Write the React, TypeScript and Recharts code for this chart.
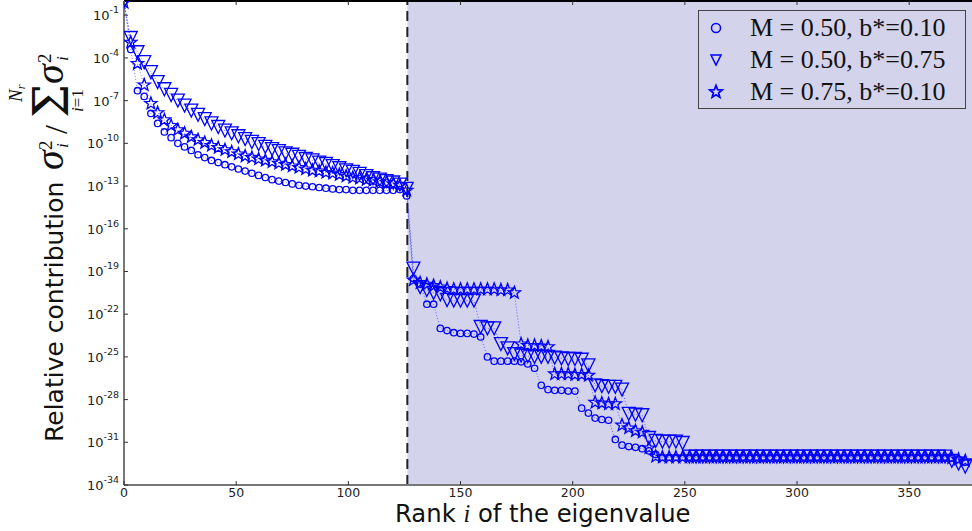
import React from "react";
import { LineChart, Line, XAxis, YAxis, ReferenceArea, ReferenceLine } from "recharts";

// rank of the eigenvalue (every 3rd one carries a marker)
const rank = [
  0, 3, 6, 9, 12, 15, 18, 21, 24, 27, 30, 33, 36, 39, 42, 45, 48, 51, 54, 57,
  60, 63, 66, 69, 72, 75, 78, 81, 84, 87, 90, 93, 96, 99, 102, 105, 108, 111, 114, 117,
  120, 123, 126, 129, 132, 135, 138, 141, 144, 147, 150, 153, 156, 159, 162, 165, 168, 171, 174, 177,
  180, 183, 186, 189, 192, 195, 198, 201, 204, 207, 210, 213, 216, 219, 222, 225, 228, 231, 234, 237,
  240, 243, 246, 249, 252, 255, 258, 261, 264, 267, 270, 273, 276, 279, 282, 285, 288, 291, 294, 297,
  300, 303, 306, 309, 312, 315, 318, 321, 324, 327, 330, 333, 336, 339, 342, 345, 348, 351, 354, 357,
  360, 363, 366, 369, 372, 375,
];

// log10 of sigma_i^2 / sum sigma_i^2
// M = 0.50, b* = 0.10 (circles)
const expM050b010 = [
  -0.05, -3.4, -6.3, -6.7, -7.9, -8.6, -9.2, -9.6, -10.0, -10.25, -10.5, -10.8, -11.0, -11.2, -11.35, -11.5, -11.65, -11.8, -11.95, -12.1,
  -12.25, -12.4, -12.55, -12.65, -12.75, -12.85, -12.95, -13.0, -13.05, -13.1, -13.15, -13.2, -13.25, -13.25, -13.3, -13.3, -13.3, -13.3, -13.3, -13.3,
  -13.3, -13.25, -13.7, -19.5, -19.9, -21.3, -21.3, -23.0, -23.15, -23.3, -23.35, -23.35, -23.4, -23.6, -25.0, -25.3, -25.3, -25.3, -25.3, -25.35,
  -25.5, -25.8, -27.0, -27.3, -27.35, -27.35, -27.4, -27.4, -28.6, -28.95, -29.3, -29.4, -29.45, -30.8, -31.2, -31.3, -31.35, -31.45, -31.6, -31.85,
  -32.05, -32.05, -32.05, -32.05, -32.05, -32.05, -32.05, -32.05, -32.05, -32.05, -32.05, -32.05, -32.05, -32.05, -32.05, -32.05, -32.05, -32.05, -32.05, -32.05,
  -32.05, -32.05, -32.05, -32.05, -32.05, -32.05, -32.05, -32.05, -32.05, -32.05, -32.05, -32.05, -32.05, -32.05, -32.05, -32.05, -32.05, -32.05, -32.05, -32.05,
  -32.05, -32.05, -32.05, -32.1, -32.2, -32.4,
];

// M = 0.50, b* = 0.75 (triangles)
const expM050b075 = [
  -0.05, -2.6, -3.6, -4.3, -5.0, -5.7, -6.2, -6.6, -7.0, -7.35, -7.7, -8.0, -8.3, -8.6, -8.85, -9.1, -9.3, -9.5, -9.7, -9.9,
  -10.05, -10.25, -10.4, -10.55, -10.7, -10.8, -10.95, -11.1, -11.2, -11.35, -11.45, -11.6, -11.75, -11.9, -12.0, -12.15, -12.3, -12.45, -12.55, -12.65,
  -12.75, -12.9, -13.2, -18.8, -20.1, -20.3, -20.5, -20.6, -21.0, -21.05, -21.05, -21.05, -21.05, -22.9, -23.0, -23.0, -24.1, -24.4, -24.8, -24.9,
  -24.95, -25.0, -25.0, -25.0, -25.05, -25.1, -25.15, -25.15, -25.2, -25.6, -27.0, -27.05, -27.1, -27.1, -27.3, -29.0, -29.05, -29.1, -30.7, -30.9,
  -30.95, -30.95, -30.95, -31.05, -32.0, -32.0, -32.0, -32.0, -32.0, -32.0, -32.0, -32.0, -32.0, -32.0, -32.0, -32.0, -32.0, -32.0, -32.0, -32.0,
  -32.0, -32.0, -32.0, -32.0, -32.0, -32.0, -32.0, -32.0, -32.0, -32.0, -32.0, -32.0, -32.0, -32.0, -32.0, -32.0, -32.0, -32.0, -32.0, -32.0,
  -32.0, -32.0, -32.0, -32.3, -32.5, -32.7,
];

// M = 0.75, b* = 0.10 (stars)
const expM075b010 = [
  -0.1, -2.9, -4.4, -5.9, -7.2, -7.85, -8.35, -8.75, -9.05, -9.3, -9.55, -9.75, -9.95, -10.15, -10.3, -10.45, -10.6, -10.75, -10.9, -11.0,
  -11.1, -11.2, -11.3, -11.4, -11.5, -11.6, -11.7, -11.8, -11.9, -11.95, -12.05, -12.1, -12.2, -12.3, -12.4, -12.45, -12.55, -12.6, -12.7, -12.75,
  -12.85, -12.95, -13.3, -19.6, -19.8, -19.9, -20.0, -20.1, -20.2, -20.25, -20.25, -20.25, -20.25, -20.25, -20.25, -20.25, -20.3, -20.3, -20.5, -24.1,
  -24.2, -24.2, -24.25, -24.3, -26.2, -26.2, -26.2, -26.25, -26.25, -26.3, -28.2, -28.25, -28.3, -28.3, -29.8, -30.0, -30.2, -30.3, -31.4, -32.0,
  -32.05, -32.05, -32.05, -32.05, -32.05, -32.05, -32.05, -32.05, -32.05, -32.05, -32.05, -32.05, -32.05, -32.05, -32.05, -32.05, -32.05, -32.05, -32.05, -32.05,
  -32.05, -32.05, -32.05, -32.05, -32.05, -32.05, -32.05, -32.05, -32.05, -32.05, -32.05, -32.05, -32.05, -32.05, -32.05, -32.05, -32.05, -32.05, -32.05, -32.05,
  -32.05, -32.05, -32.05, -32.1, -32.2, -32.3,
];

const xTicks = [0, 50, 100, 150, 200, 250, 300, 350];
const yTickExps = [-34, -31, -28, -25, -22, -19, -16, -13, -10, -7, -4, -1];
const legendLabels = ["M = 0.50, b*=0.10", "M = 0.50, b*=0.75", "M = 0.75, b*=0.10"];
const truncationRank = 126.3;

const WIDTH = 972;
const HEIGHT = 531;
const Y_AXIS_W = 124;
const X_AXIS_H = 46;
const PLOT_TOP = 1;
const PLOT_BOTTOM = HEIGHT - X_AXIS_H;
const BLUE = "#0000ff";
const SHADE = "#d3d3ec";
const SANS = "DejaVu Sans";
const SERIF = "Liberation Serif";

const toPoints = (exps: number[]) => rank.map((x, i) => ({ x, y: Math.pow(10, exps[i]) }));
const circles = toPoints(expM050b010);
const triangles = toPoints(expM050b075);
const stars = toPoints(expM075b010);

function starPath(cx: number, cy: number, R: number, r: number) {
  let d = "";
  for (let k = 0; k < 10; k++) {
    const a = ((-90 + k * 36) * Math.PI) / 180;
    const rad = k % 2 === 0 ? R : r;
    d += `${k === 0 ? "M" : "L"}${cx + rad * Math.cos(a)},${cy + rad * Math.sin(a)}`;
  }
  return d + "Z";
}

const trianglePoints = (cx: number, cy: number, s: number) =>
  `${cx - s},${cy - s} ${cx + s},${cy - s} ${cx},${cy + s}`;

const renderCircle = (p: any) =>
  p.cx == null || p.cy == null ? <g key={`c${p.index}`} /> : (
    <circle key={`c${p.index}`} cx={p.cx} cy={p.cy} r={3.2} fill="none" stroke={BLUE} strokeWidth={1.3} />
  );

const renderTriangle = (p: any) =>
  p.cx == null || p.cy == null ? <g key={`t${p.index}`} /> : (
    <polygon key={`t${p.index}`} points={trianglePoints(p.cx, p.cy, 6.5)} fill="none" stroke={BLUE} strokeWidth={1.3} />
  );

const renderStar = (p: any) =>
  p.cx == null || p.cy == null ? <g key={`s${p.index}`} /> : (
    <path key={`s${p.index}`} d={starPath(p.cx, p.cy, 6.5, 2.7)} fill="none" stroke={BLUE} strokeWidth={1.3} />
  );

function XTick(props: any) {
  const { x, payload } = props;
  return (
    <g>
      <line x1={x} x2={x} y1={PLOT_BOTTOM} y2={PLOT_BOTTOM - 4} stroke="#333" />
      <line x1={x} x2={x} y1={PLOT_TOP} y2={PLOT_TOP + 4} stroke="#333" />
      <text x={x} y={PLOT_BOTTOM + 11.5} textAnchor="middle" fontFamily={SANS} fontSize={12.5} fill="#222">
        {payload.value}
      </text>
    </g>
  );
}

function YTick(props: any) {
  const { y, payload } = props;
  const e = Math.round(Math.log10(payload.value));
  return (
    <g>
      <line x1={Y_AXIS_W} x2={Y_AXIS_W + 4} y1={y} y2={y} stroke="#333" />
      <text x={Y_AXIS_W - 5} y={y + 5} textAnchor="end" fontFamily={SANS} fontSize={13} fill="#222">
        10<tspan dy={-7} fontSize={9.5}>{e}</tspan>
      </text>
    </g>
  );
}

function YLabel() {
  const it = { fontFamily: SERIF, fontStyle: "italic" as const };
  return (
    <g transform="translate(63, 442) rotate(-90)" fill="#111">
      <text x={0} y={0} fontFamily={SANS} fontSize={25}>Relative contribution</text>
      <text x={272} y={0} {...it} fontSize={40}>σ</text>
      <text x={292} y={-11} fontFamily={SERIF} fontSize={19}>2</text>
      <text x={294} y={5} {...it} fontSize={17}>i</text>
      <text x={308} y={4} fontFamily={SERIF} fontSize={32}>/</text>
      <text x={324} y={5} fontFamily="DejaVu Serif" fontSize={48}>Σ</text>
      <text x={340} y={-41} {...it} fontSize={19}>
        N<tspan fontSize={12} dy={3}>r</tspan>
      </text>
      <text x={330} y={20} {...it} fontSize={17}>
        i<tspan fontStyle="normal">=1</tspan>
      </text>
      <text x={358} y={0} {...it} fontSize={40}>σ</text>
      <text x={379} y={-12} fontFamily={SERIF} fontSize={19}>2</text>
      <text x={381} y={5} {...it} fontSize={17}>i</text>
    </g>
  );
}

function XLabel() {
  return (
    <text x={395} y={522} fontFamily={SANS} fontSize={24.3} fill="#111">
      Rank <tspan fontFamily={SERIF} fontStyle="italic">i</tspan> of the eigenvalue
    </text>
  );
}

function LegendMarker({ kind }: { kind: number }) {
  return (
    <svg width={20} height={20} style={{ display: "block" }}>
      {kind === 0 && <circle cx={10} cy={10} r={4.5} fill="none" stroke={BLUE} strokeWidth={1.5} />}
      {kind === 1 && <polygon points={trianglePoints(10, 10, 5)} fill="none" stroke={BLUE} strokeWidth={1.5} />}
      {kind === 2 && <path d={starPath(10, 10, 6.5, 2.8)} fill="none" stroke={BLUE} strokeWidth={1.8} />}
    </svg>
  );
}

function LegendBox() {
  return (
    <div
      style={{
        position: "absolute",
        left: 698,
        top: 10,
        width: 266,
        height: 96,
        border: "1px solid #444",
        paddingTop: 1,
      }}
    >
      {legendLabels.map((label, i) => (
        <div key={label} style={{ display: "flex", alignItems: "center", height: 32 }}>
          <div style={{ width: 51, display: "flex", justifyContent: "flex-start", paddingLeft: 7, boxSizing: "border-box" }}>
            <LegendMarker kind={i} />
          </div>
          <span style={{ fontFamily: SERIF, fontSize: 26, color: "#111", whiteSpace: "nowrap" }}>{label}</span>
        </div>
      ))}
    </div>
  );
}

export default function App() {
  return (
    <div style={{ position: "absolute", left: 0, top: 0, width: WIDTH, height: HEIGHT, background: "#fff" }}>
      <LineChart width={WIDTH} height={HEIGHT} margin={{ top: PLOT_TOP, right: 0, bottom: 0, left: 0 }}>
        <XAxis
          type="number"
          dataKey="x"
          domain={[0, 378]}
          ticks={xTicks}
          interval={0}
          allowDataOverflow
          height={X_AXIS_H}
          axisLine={{ stroke: "#777", strokeWidth: 2 }}
          tickLine={false}
          tick={<XTick />}
          label={<XLabel />}
        />
        <YAxis
          type="number"
          scale="log"
          domain={[1e-34, 1]}
          ticks={yTickExps.map((e) => Math.pow(10, e))}
          interval={0}
          allowDataOverflow
          width={Y_AXIS_W}
          axisLine={{ stroke: "#777", strokeWidth: 2 }}
          tickLine={false}
          tick={<YTick />}
          label={<YLabel />}
        />
        <ReferenceArea x1={truncationRank} x2={378} y1={1e-34} y2={1} fill={SHADE} fillOpacity={1} stroke="none" ifOverflow="hidden" />
        <ReferenceLine x={truncationRank} stroke="#222" strokeWidth={2} strokeDasharray="10 6" />
        <ReferenceLine y={1} stroke="#000" strokeWidth={2} />
        <Line data={circles} dataKey="y" type="linear" stroke={BLUE} strokeOpacity={0.55} strokeWidth={1} strokeDasharray="1 2" dot={renderCircle} activeDot={false} isAnimationActive={false} />
        <Line data={triangles} dataKey="y" type="linear" stroke={BLUE} strokeOpacity={0.55} strokeWidth={1} strokeDasharray="1 2" dot={renderTriangle} activeDot={false} isAnimationActive={false} />
        <Line data={stars} dataKey="y" type="linear" stroke={BLUE} strokeOpacity={0.55} strokeWidth={1} strokeDasharray="1 2" dot={renderStar} activeDot={false} isAnimationActive={false} />
      </LineChart>
      <LegendBox />
    </div>
  );
}
